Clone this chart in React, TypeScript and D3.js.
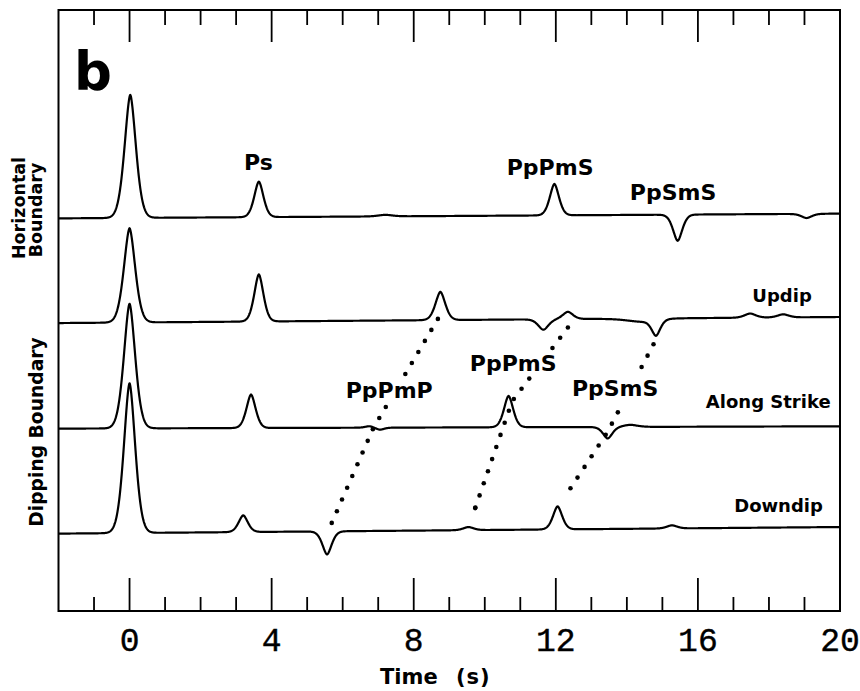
import React from 'react';
import * as d3 from 'd3';

// ---- Time axis -------------------------------------------------------------
const TIME_DOMAIN: [number, number] = [-2, 20];
const MINOR_TICKS = d3.range(-1, 20, 1);
const MAJOR_TICK_LABELS = [0, 4, 8, 12, 16, 20];

// ---- Traces: each one is a baseline level plus a set of arrivals -------------
// arrival = [time (s), amplitude (trace units), full width at half maximum (s)]
const TRACE_LEVELS = [0, -1, -2, -3];
const TRACE_DRIFT_START = [-0.01, -0.01, -0.018, -0.021];
const TRACE_DRIFT_END = [0.035, 0.048, 0.004, 0.042];
const PULSE_SHAPE = 1.7; // exponent of the pulse: pointed crest, rounded foot

const horizontalArrivals = [
  [0.02, 1.175, 0.37],
  [3.64, 0.34, 0.3],
  [7.2, 0.015, 0.45],
  [11.96, 0.3, 0.3],
  [15.43, -0.25, 0.3],
  [19.06, -0.04, 0.33],
];
const updipArrivals = [
  [0.0, 0.9, 0.37],
  [3.64, 0.45, 0.3],
  [8.75, 0.27, 0.32],
  [11.65, -0.1, 0.33],
  [12.34, 0.07, 0.33],
  [14.4, -0.03, 0.9],
  [14.82, -0.15, 0.28],
  [17.47, 0.04, 0.36],
  [18.4, 0.03, 0.36],
];
const alongStrikeArrivals = [
  [0.0, 1.19, 0.37],
  [3.42, 0.32, 0.3],
  [6.75, 0.015, 0.26],
  [7.05, -0.02, 0.26],
  [10.67, 0.3, 0.3],
  [13.46, -0.11, 0.3],
  [14.1, 0.02, 0.45],
];
const downdipArrivals = [
  [0.0, 1.43, 0.37],
  [3.2, 0.16, 0.3],
  [5.56, -0.22, 0.3],
  [9.54, 0.03, 0.33],
  [12.05, 0.22, 0.3],
  [15.27, 0.03, 0.33],
];
const TRACE_ARRIVALS = [horizontalArrivals, updipArrivals, alongStrikeArrivals, downdipArrivals];

// ---- Moveout curves across the dipping-boundary traces ----------------------
// vertex = trace index, time (s), offset above that trace's baseline
const moveoutPpPmP = [
  { trace: 1, t: 8.68, offset: 0.03 },
  { trace: 2, t: 6.86, offset: -0.015 },
  { trace: 3, t: 5.6, offset: 0.01 },
];
const moveoutPpPmS = [
  { trace: 1, t: 12.34, offset: -0.053 },
  { trace: 2, t: 10.77, offset: 0.243 },
  { trace: 3, t: 9.73, offset: 0.223 },
];
const moveoutPpSmS = [
  { trace: 1, t: 14.75, offset: -0.213 },
  { trace: 2, t: 13.45, offset: -0.054 },
  { trace: 3, t: 12.22, offset: 0.313 },
];
const MOVEOUTS = [moveoutPpPmP, moveoutPpPmS, moveoutPpSmS];

// ---- Annotations -----------------------------------------------------------
const phaseLabels = [
  { text: 'Ps', t: 3.63, v: 0.449 },
  { text: 'PpPmS', t: 11.84, v: 0.408 },
  { text: 'PpSmS', t: 15.3, v: 0.169 },
  { text: 'PpPmP', t: 7.31, v: -1.726 },
  { text: 'PpPmS', t: 10.8, v: -1.471 },
  { text: 'PpSmS', t: 13.67, v: -1.71 },
];
const traceLabels = [
  { text: 'Updip', t: 18.37, v: -0.807 },
  { text: 'Along Strike', t: 17.98, v: -1.824 },
  { text: 'Downdip', t: 18.27, v: -2.813 },
];

const W = 860;
const H = 691;
const FRAME = { left: 58.5, right: 840, top: 10, bottom: 611 };
const SANS = '"DejaVu Sans", Verdana, sans-serif';

function pulse(t: number, t0: number, fwhm: number) {
  const u = Math.abs((2 * (t - t0)) / fwhm);
  return Math.exp(-Math.LN2 * Math.pow(u, PULSE_SHAPE));
}

export default function App() {
  const x = d3.scaleLinear().domain(TIME_DOMAIN).range([FRAME.left, FRAME.right]);
  const y = d3.scaleLinear().domain([-3.76, 1.98]).range([FRAME.bottom, FRAME.top]);

  const samples = d3.range(TIME_DOMAIN[0], TIME_DOMAIN[1] + 0.0001, 0.01);
  const line = d3
    .line<[number, number]>()
    .x((d) => x(d[0]))
    .y((d) => y(d[1]));

  const traces = TRACE_ARRIVALS.map((arrivals, k) => {
    const drift = d3
      .scaleLinear()
      .domain(TIME_DOMAIN)
      .range([TRACE_DRIFT_START[k], TRACE_DRIFT_END[k]]);
    const pts: [number, number][] = samples.map((t) => {
      let v = TRACE_LEVELS[k] + drift(t);
      for (const [t0, a, w] of arrivals) v += a * pulse(t, t0, w);
      return [t, v];
    });
    return line(pts) as string;
  });

  // label boxes, so that the dotted moveouts stop short of the text
  const PHASE_FONT = 22;
  const boxes = phaseLabels.map((l) => {
    const w = l.text.length * 17.3;
    const cx = x(l.t);
    const by = y(l.v);
    return { x0: cx - w / 2 - 3, x1: cx + w / 2 + 3, y0: by - 19, y1: by + 6 };
  });

  const DOT_STEP = 12.8;
  const dots: { cx: number; cy: number }[] = [];
  MOVEOUTS.forEach((path) => {
    const pts = path.map((p) => [x(p.t), y(TRACE_LEVELS[p.trace] + p.offset)]);
    let carry = 0;
    for (let i = 0; i < pts.length - 1; i++) {
      const [ax, ay] = pts[i];
      const [bx, by] = pts[i + 1];
      const len = Math.hypot(bx - ax, by - ay);
      let d = carry;
      while (d <= len + 0.01) {
        const f = d / len;
        const cx = ax + (bx - ax) * f;
        const cy = ay + (by - ay) * f;
        const hidden = boxes.some((b) => cx > b.x0 && cx < b.x1 && cy > b.y0 && cy < b.y1);
        if (!hidden) dots.push({ cx, cy });
        d += DOT_STEP;
      }
      carry = d - len;
      if (i === pts.length - 2 && carry > DOT_STEP * 0.5) {
        const hidden = boxes.some((b) => bx > b.x0 && bx < b.x1 && by > b.y0 && by < b.y1);
        if (!hidden) dots.push({ cx: bx, cy: by });
      }
    }
  });

  return (
    <svg
      width={W}
      height={H}
      viewBox={`0 0 ${W} ${H}`}
      style={{ position: 'absolute', left: 0, top: 0, background: '#fff' }}
    >
      <rect x={0} y={0} width={W} height={H} fill="#fff" />

      {/* frame */}
      <rect
        x={FRAME.left}
        y={FRAME.top}
        width={FRAME.right - FRAME.left}
        height={FRAME.bottom - FRAME.top}
        fill="none"
        stroke="#000"
        strokeWidth={2}
      />

      {/* ticks on top and bottom edges */}
      {MINOR_TICKS.map((t) => {
        const major = t % 4 === 0;
        const xx = x(t);
        return (
          <g key={t} stroke="#000" strokeWidth={1.8}>
            <line x1={xx} x2={xx} y1={FRAME.top} y2={FRAME.top + (major ? 32 : 15)} />
            <line x1={xx} x2={xx} y1={FRAME.bottom} y2={FRAME.bottom - (major ? 33 : 14)} />
          </g>
        );
      })}

      {/* tick labels */}
      {MAJOR_TICK_LABELS.map((t) => (
        <text
          key={t}
          x={x(t)}
          y={651}
          textAnchor="middle"
          fontFamily='"Liberation Mono", "Courier New", monospace'
          fontSize={33}
          fill="#000"
          stroke="#000"
          strokeWidth={0.4}
        >
          {t}
        </text>
      ))}
      <text x={380} y={684} fontFamily={SANS} fontWeight="bold" fontSize={21} fill="#000">
        <tspan>Time</tspan>
        <tspan x={456} letterSpacing={1}>
          (s)
        </tspan>
      </text>

      {/* traces */}
      {traces.map((d, i) => (
        <path key={i} d={d} fill="none" stroke="#000" strokeWidth={2.2} strokeLinejoin="round" />
      ))}

      {/* moveout dots */}
      {dots.map((d, i) => (
        <circle key={i} cx={d.cx} cy={d.cy} r={2.3} fill="#000" />
      ))}

      {/* phase labels */}
      {phaseLabels.map((l, i) => (
        <text
          key={i}
          x={x(l.t)}
          y={y(l.v)}
          textAnchor="middle"
          fontFamily={SANS}
          fontWeight="bold"
          fontSize={PHASE_FONT}
          fill="#000"
        >
          {l.text}
        </text>
      ))}

      {/* trace labels */}
      {traceLabels.map((l, i) => (
        <text
          key={i}
          x={x(l.t)}
          y={y(l.v)}
          textAnchor="middle"
          fontFamily={SANS}
          fontWeight="bold"
          fontSize={18}
          fill="#000"
        >
          {l.text}
        </text>
      ))}

      {/* panel letter */}
      <text x={74} y={90} fontFamily={SANS} fontWeight="bold" fontSize={53} fill="#000">
        b
      </text>

      {/* group labels on the left */}
      <text
        transform="translate(25,208) rotate(-90)"
        textAnchor="middle"
        fontFamily={SANS}
        fontWeight="bold"
        fontSize={17.5}
        fill="#000"
      >
        Horizontal
      </text>
      <text
        transform="translate(41.5,210) rotate(-90)"
        textAnchor="middle"
        fontFamily={SANS}
        fontWeight="bold"
        fontSize={17.5}
        fill="#000"
      >
        Boundary
      </text>
      <text
        transform="translate(42.5,432) rotate(-90)"
        textAnchor="middle"
        fontFamily={SANS}
        fontWeight="bold"
        fontSize={18.7}
        fill="#000"
      >
        Dipping Boundary
      </text>
    </svg>
  );
}
